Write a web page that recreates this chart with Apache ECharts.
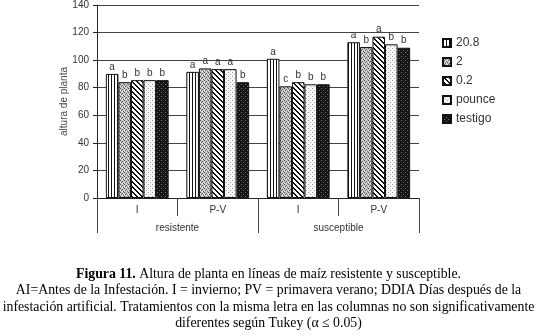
<!DOCTYPE html>
<html><head><meta charset="utf-8">
<script src="https://cdn.jsdelivr.net/npm/echarts@6/dist/echarts.min.js"></script>
<style>html,body{margin:0;padding:0;background:#fff}#c{width:537px;height:336px}</style>
</head><body><div id="c"></div>
<script>
const seasons = ['I', 'P-V', 'I', 'P-V'];
const lines = ['resistente', 'susceptible'];
const seriesNames = ['20.8', '2', '0.2', 'pounce', 'testigo'];
const v208 = [90, 91.5, 101, 113];
const v2 = [84, 94, 81, 109.5];
const v02 = [85.5, 93.5, 84, 117];
const vPounce = [85.5, 93.5, 82.5, 111.5];
const vTestigo = [85.5, 84, 82.5, 109];
const l208 = ['a', 'a', 'a', 'a'];
const l2 = ['b', 'a', 'c', 'b'];
const l02 = ['b', 'a', 'b', 'a'];
const lPounce = ['b', 'a', 'b', 'b'];
const lTestigo = ['b', 'b', 'b', 'b'];
const yTicks = [0, 20, 40, 60, 80, 100, 120, 140];
const caption = [
  '{b|Figura 11.} Altura de planta en líneas de maíz resistente y susceptible.',
  'AI=Antes de la Infestación. I = invierno; PV = primavera verano; DDIA Días después de la',
  'infestación artificial. Tratamientos con la misma letra en las columnas no son significativamente',
  'diferentes según Tukey (α ≤ 0.05)'
];

function makePat(w, h, fn) {
  const c = document.createElement('canvas'); c.width = w; c.height = h;
  const g = c.getContext('2d'); fn(g, w, h); return c;
}
function px(g, x, y, col) { g.fillStyle = col; g.fillRect(x, y, 1, 1); }
const patterns = [
  makePat(3, 3, (g) => { g.fillStyle = '#fff'; g.fillRect(0,0,3,3); g.fillStyle = '#111'; g.fillRect(0,0,1,3); }),
  makePat(4, 4, (g) => { g.fillStyle = '#c4c4c4'; g.fillRect(0,0,4,4);
    px(g,0,0,'#555'); px(g,2,1,'#666'); px(g,1,2,'#555'); px(g,3,3,'#666'); px(g,2,3,'#eee'); px(g,0,2,'#eee'); }),
  makePat(5, 5, (g) => { g.fillStyle = '#fff'; g.fillRect(0,0,5,5);
    for (let y = 0; y < 5; y++) for (let x = 0; x < 5; x++) { const d = ((x - y) % 5 + 5) % 5; if (d < 2) px(g, x, y, '#111'); } }),
  makePat(4, 4, (g) => { g.fillStyle = '#f6f6f6'; g.fillRect(0,0,4,4); px(g,0,0,'#999'); px(g,2,2,'#aaa'); }),
  makePat(4, 4, (g) => { g.fillStyle = '#151515'; g.fillRect(0,0,4,4); px(g,1,0,'#777'); px(g,3,2,'#666'); })
];

const values = [v208, v2, v02, vPounce, vTestigo];
const letters = [l208, l2, l02, lPounce, lTestigo];
const ff = 'Liberation Sans, Arial, sans-serif';

const series = seriesNames.map((name, i) => ({
  name, type: 'bar', xAxisIndex: 0, yAxisIndex: 0,
  barGap: '0%', barCategoryGap: '22%',
  data: values[i].map((v, j) => ({ value: v, label: { formatter: letters[i][j] } })),
  itemStyle: { color: { image: patterns[i], repeat: 'repeat' }, borderColor: '#111', borderWidth: 1 },
  label: { show: true, position: 'top', distance: 2, fontSize: 10, color: '#333', fontFamily: ff }
}));

const capFont = '13.8px "Liberation Serif", "Times New Roman", serif';
const capY = [274.5, 290.8, 307, 323.3];

const chart = echarts.init(document.getElementById('c'), null, { renderer: 'canvas' });
chart.setOption({
  animation: false,
  backgroundColor: '#fff',
  grid: { left: 97, top: 4, width: 322, height: 194, containLabel: false },
  legend: {
    orient: 'vertical', left: 437, top: 32, itemWidth: 8, itemHeight: 8, itemGap: 7,
    icon: 'rect', textStyle: { fontSize: 12, color: '#333', fontFamily: ff }, data: seriesNames
  },
  xAxis: [
    { type: 'category', data: seasons, position: 'bottom',
      axisLine: { show: true, lineStyle: { color: '#222', width: 1 } },
      axisTick: { show: true, length: 18, interval: 0, lineStyle: { color: '#444' } },
      axisLabel: { fontSize: 10, color: '#333', margin: 7, fontFamily: ff },
      splitLine: { show: false } },
    { type: 'category', data: lines, position: 'bottom', gridIndex: 0,
      axisLine: { show: false },
      axisTick: { show: true, length: 35, interval: 0, lineStyle: { color: '#444' } },
      axisLabel: { fontSize: 10, color: '#333', margin: 25, fontFamily: ff },
      splitLine: { show: false } }
  ],
  yAxis: {
    type: 'value', min: yTicks[0], max: yTicks[yTicks.length - 1], interval: 20,
    name: 'altura de planta', nameLocation: 'middle', nameGap: 28, nameMoveOverlap: false,
    nameTextStyle: { fontSize: 10, color: '#444', fontFamily: ff },
    axisLine: { show: true, lineStyle: { color: '#222' } },
    axisTick: { show: true, length: 4, lineStyle: { color: '#222' } },
    axisLabel: { fontSize: 10, color: '#333', margin: 8, fontFamily: ff },
    splitLine: { show: true, lineStyle: { color: '#444', width: 1 } }
  },
  graphic: caption.map((t, i) => ({
    type: 'text', x: 268.5, y: capY[i],
    style: { text: t, font: capFont, fill: '#000', align: 'center', verticalAlign: 'middle',
      rich: { b: { fontWeight: 'bold', fontSize: 13.8, fontFamily: 'Liberation Serif' } } }
  })),
  series
});
</script></body></html>
